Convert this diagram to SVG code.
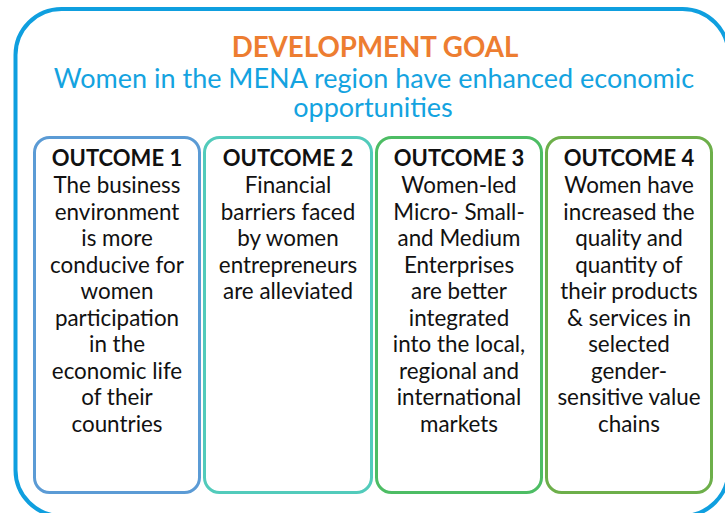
<svg xmlns="http://www.w3.org/2000/svg" width="725" height="513" viewBox="0 0 725 513">
<style>
.frame{fill:none;stroke:#0f9fdf;stroke-width:4}
.box{fill:#ffffff;stroke-width:3}
.t{font-family:Lato,"Liberation Sans",sans-serif;text-anchor:middle}
.title{font-size:27.7px;font-weight:700;fill:#ed7d31}
.sub{font-size:27px;fill:#14a3e0}
.hd{font-size:22px;font-weight:700;fill:#111111}
.bd{font-size:22.4px;fill:#111111}
</style>
<rect width="725" height="513" fill="#ffffff"/>
<g id="goal">
<rect class="frame" x="15.5" y="9" width="713" height="507" rx="46"/>
<text class="t title" x="375" y="57">DEVELOPMENT GOAL</text>
<text class="t sub" x="374" y="88">Women in the MENA region have enhanced economic</text>
<text class="t sub" x="373" y="117">opportunities</text>
</g>
<g id="outcome1">
<rect class="box" x="34.5" y="137.5" width="165" height="355" rx="15" stroke="#5b9bd5"/>
<text class="t hd" x="117" y="166">OUTCOME 1</text>
<text class="t bd" x="117" y="193">The business</text>
<text class="t bd" x="117" y="219.5">environment</text>
<text class="t bd" x="117" y="246">is more</text>
<text class="t bd" x="117" y="272.5">conducive for</text>
<text class="t bd" x="117" y="299">women</text>
<text class="t bd" x="117" y="325.5">participation</text>
<text class="t bd" x="117" y="352">in the</text>
<text class="t bd" x="117" y="378.5">economic life</text>
<text class="t bd" x="117" y="405">of their</text>
<text class="t bd" x="117" y="431.5">countries</text>
</g>
<g id="outcome2">
<rect class="box" x="204.5" y="137.5" width="167" height="355" rx="15" stroke="#52cbbb"/>
<text class="t hd" x="288" y="166">OUTCOME 2</text>
<text class="t bd" x="288" y="193">Financial</text>
<text class="t bd" x="288" y="219.5">barriers faced</text>
<text class="t bd" x="288" y="246">by women</text>
<text class="t bd" x="288" y="272.5">entrepreneurs</text>
<text class="t bd" x="288" y="299">are alleviated</text>
</g>
<g id="outcome3">
<rect class="box" x="376.5" y="137.5" width="165" height="355" rx="15" stroke="#4dbd64"/>
<text class="t hd" x="459" y="166">OUTCOME 3</text>
<text class="t bd" x="459" y="193">Women-led</text>
<text class="t bd" x="459" y="219.5">Micro- Small-</text>
<text class="t bd" x="459" y="246">and Medium</text>
<text class="t bd" x="459" y="272.5">Enterprises</text>
<text class="t bd" x="459" y="299">are better</text>
<text class="t bd" x="459" y="325.5">integrated</text>
<text class="t bd" x="459" y="352">into the local,</text>
<text class="t bd" x="459" y="378.5">regional and</text>
<text class="t bd" x="459" y="405">international</text>
<text class="t bd" x="459" y="431.5">markets</text>
</g>
<g id="outcome4">
<rect class="box" x="546.5" y="137.5" width="165" height="355" rx="15" stroke="#6daf4a"/>
<text class="t hd" x="629" y="166">OUTCOME 4</text>
<text class="t bd" x="629" y="193">Women have</text>
<text class="t bd" x="629" y="219.5">increased the</text>
<text class="t bd" x="629" y="246">quality and</text>
<text class="t bd" x="629" y="272.5">quantity of</text>
<text class="t bd" x="629" y="299">their products</text>
<text class="t bd" x="629" y="325.5">&amp; services in</text>
<text class="t bd" x="629" y="352">selected</text>
<text class="t bd" x="629" y="378.5">gender-</text>
<text class="t bd" x="629" y="405">sensitive value</text>
<text class="t bd" x="629" y="431.5">chains</text>
</g>
<g id="connectors"/>
</svg>
